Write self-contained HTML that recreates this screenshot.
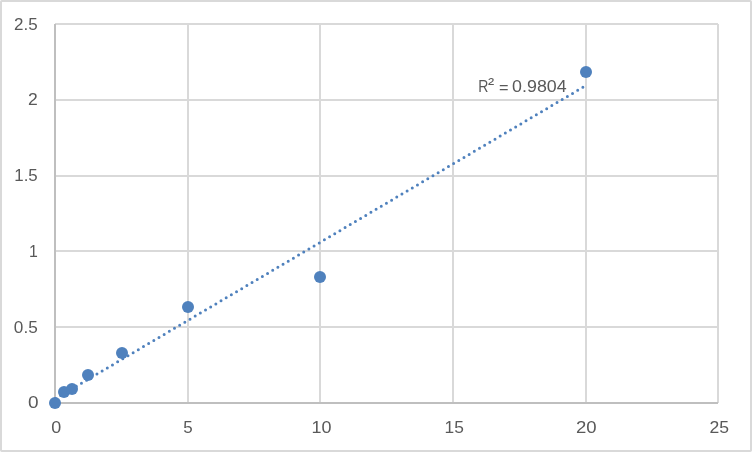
<!DOCTYPE html>
<html lang="en"><head><meta charset="utf-8"><title>Chart</title>
<style>
html,body{margin:0;padding:0;background:#fff;}
body{width:752px;height:452px;overflow:hidden;}
svg{display:block;}
text{font-family:"Liberation Sans",sans-serif;font-size:16.7px;fill:#595959;}
</style></head><body>
<svg width="752" height="452" viewBox="0 0 752 452">
<rect x="0" y="0" width="752" height="452" fill="#ffffff"/>
<rect x="1" y="1" width="750" height="450" rx="0.8" fill="none" stroke="#d9d9d9" stroke-width="2"/>
<g stroke="#d9d9d9" stroke-width="2" fill="none">
<line x1="55" x2="718" y1="327" y2="327"/>
<line x1="55" x2="718" y1="251" y2="251"/>
<line x1="55" x2="718" y1="176" y2="176"/>
<line x1="55" x2="718" y1="100" y2="100"/>
<line x1="55" x2="718" y1="24" y2="24"/>
<line x1="188" x2="188" y1="24" y2="403"/>
<line x1="320" x2="320" y1="24" y2="403"/>
<line x1="453" x2="453" y1="24" y2="403"/>
<line x1="586" x2="586" y1="24" y2="403"/>
<line x1="718" x2="718" y1="24" y2="403"/>
</g>
<g stroke="#bfbfbf" stroke-width="2" fill="none">
<line x1="55" x2="55" y1="24" y2="404"/>
<line x1="54" x2="718" y1="403" y2="403"/>
</g>
<line x1="55.60" y1="398.48" x2="582.93" y2="87.24" stroke="#4f81bd" stroke-width="3" stroke-linecap="round" stroke-dasharray="0 6.0025" fill="none"/>
<g fill="#4f81bd">
<circle cx="55" cy="403" r="6"/>
<circle cx="64" cy="392" r="6"/>
<circle cx="72" cy="389" r="6"/>
<circle cx="88" cy="375" r="6"/>
<circle cx="122" cy="353" r="6"/>
<circle cx="188" cy="307" r="6"/>
<circle cx="320" cy="277" r="6"/>
<circle cx="586" cy="72" r="6"/>
</g>
<text transform="translate(15.00 30) scale(1.0173 1)" x="-0.875" y="0">2.5</text>
<text transform="translate(29.00 105) scale(1.0492 1)" x="-0.875" y="0">2</text>
<text transform="translate(15.50 181) scale(1.0118 1)" x="-1.250" y="0">1.5</text>
<text transform="translate(30.10 257) scale(0.9517 1)" x="-1.250" y="0">1</text>
<text transform="translate(14.50 333) scale(1.0286 1)" x="-0.625" y="0">0.5</text>
<text transform="translate(28.70 408) scale(1.1375 1)" x="-0.625" y="0">0</text>
<text transform="translate(51.80 433) scale(1.0750 1)" x="-0.625" y="0">0</text>
<text transform="translate(184.10 433) scale(1.0159 1)" x="-0.750" y="0">5</text>
<text transform="translate(312.80 433) scale(1.0767 1)" x="-1.250" y="0">10</text>
<text transform="translate(445.80 433) scale(1.0406 1)" x="-1.250" y="0">15</text>
<text transform="translate(577.00 433) scale(1.1118 1)" x="-0.875" y="0">20</text>
<text transform="translate(710.30 433) scale(1.0529 1)" x="-0.875" y="0">25</text>
<text><tspan x="478.34" y="92" textLength="10.14" lengthAdjust="spacingAndGlyphs">R</tspan><tspan x="488.08" y="89" textLength="6.16" lengthAdjust="spacingAndGlyphs">²</tspan> <tspan x="499.05" y="93" textLength="9.51" lengthAdjust="spacingAndGlyphs">=</tspan> <tspan x="512.13" y="92" textLength="54.55" lengthAdjust="spacingAndGlyphs">0.9804</tspan></text>
</svg></body></html>
